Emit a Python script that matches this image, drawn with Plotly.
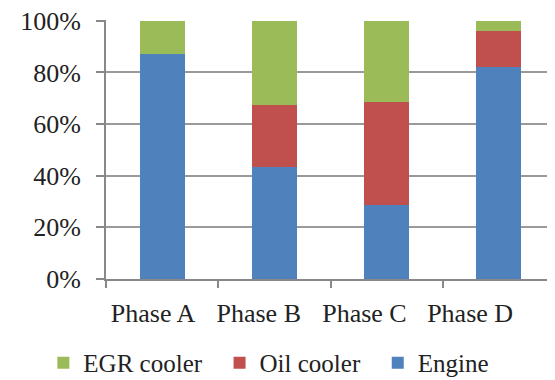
import plotly.graph_objects as go

categories = ["Phase A", "Phase B", "Phase C", "Phase D"]
engine = [87, 43.5, 28.5, 82]
oil_cooler = [0, 24, 40, 14]
egr_cooler = [13, 32.5, 31.5, 4]
y_ticks = [0, 20, 40, 60, 80, 100]

FONT = "Liberation Serif, Times New Roman, serif"
PAD = "\u00a0\u00a0"

fig = go.Figure()
fig.add_trace(go.Bar(x=categories, y=engine, name="Engine", marker=dict(color="#4F81BD", line=dict(width=0))))
fig.add_trace(go.Bar(x=categories, y=oil_cooler, name="Oil cooler" + PAD, marker=dict(color="#C0504D", line=dict(width=0))))
fig.add_trace(go.Bar(x=categories, y=egr_cooler, name="EGR cooler" + PAD, marker=dict(color="#9BBB59", line=dict(width=0))))
# invisible trace that carries the category labels axis
fig.add_trace(go.Scatter(x=categories, y=[None] * len(categories), xaxis="x2", mode="none",
                         showlegend=False, hoverinfo="skip"))

fig.update_layout(
    width=555, height=380,
    barmode="stack", bargap=0.6,
    margin=dict(l=98, r=8, t=12, b=109, autoexpand=False),
    plot_bgcolor="white", paper_bgcolor="white",
    font=dict(family=FONT, size=26, color="#222"),
    legend=dict(orientation="h", traceorder="reversed", xref="container", x=0.47,
                xanchor="center", yref="container", y=0.066, yanchor="middle",
                font=dict(family=FONT, size=25, color="#222"), itemwidth=30),
    hovermode=False,
    xaxis2=dict(overlaying="x", anchor="y", side="bottom", type="category",
                range=[-0.445, 3.803], showline=False, showgrid=False, zeroline=False,
                ticks="", ticklabelstandoff=16, automargin=False, fixedrange=True),
)
fig.layout.xaxis.update(showline=True, linecolor="#888", linewidth=2, ticks="outside",
                        tickson="boundaries", ticklen=7, tickcolor="#888", tickwidth=2,
                        showgrid=False, automargin=False, showticklabels=False)
fig.update_yaxes(range=[0, 100.3], tickmode="array", tickvals=y_ticks,
                 ticktext=[f"{v}%" for v in y_ticks],
                 showline=True, linecolor="#888", linewidth=2, ticks="outside", ticklen=8,
                 tickcolor="#888", tickwidth=2, showgrid=True, gridcolor="#9a9a9a",
                 gridwidth=1.5, zeroline=False, automargin=False,
                 ticklabeloverflow="allow", ticklabelstandoff=10)

fig.write_html("out.html")
